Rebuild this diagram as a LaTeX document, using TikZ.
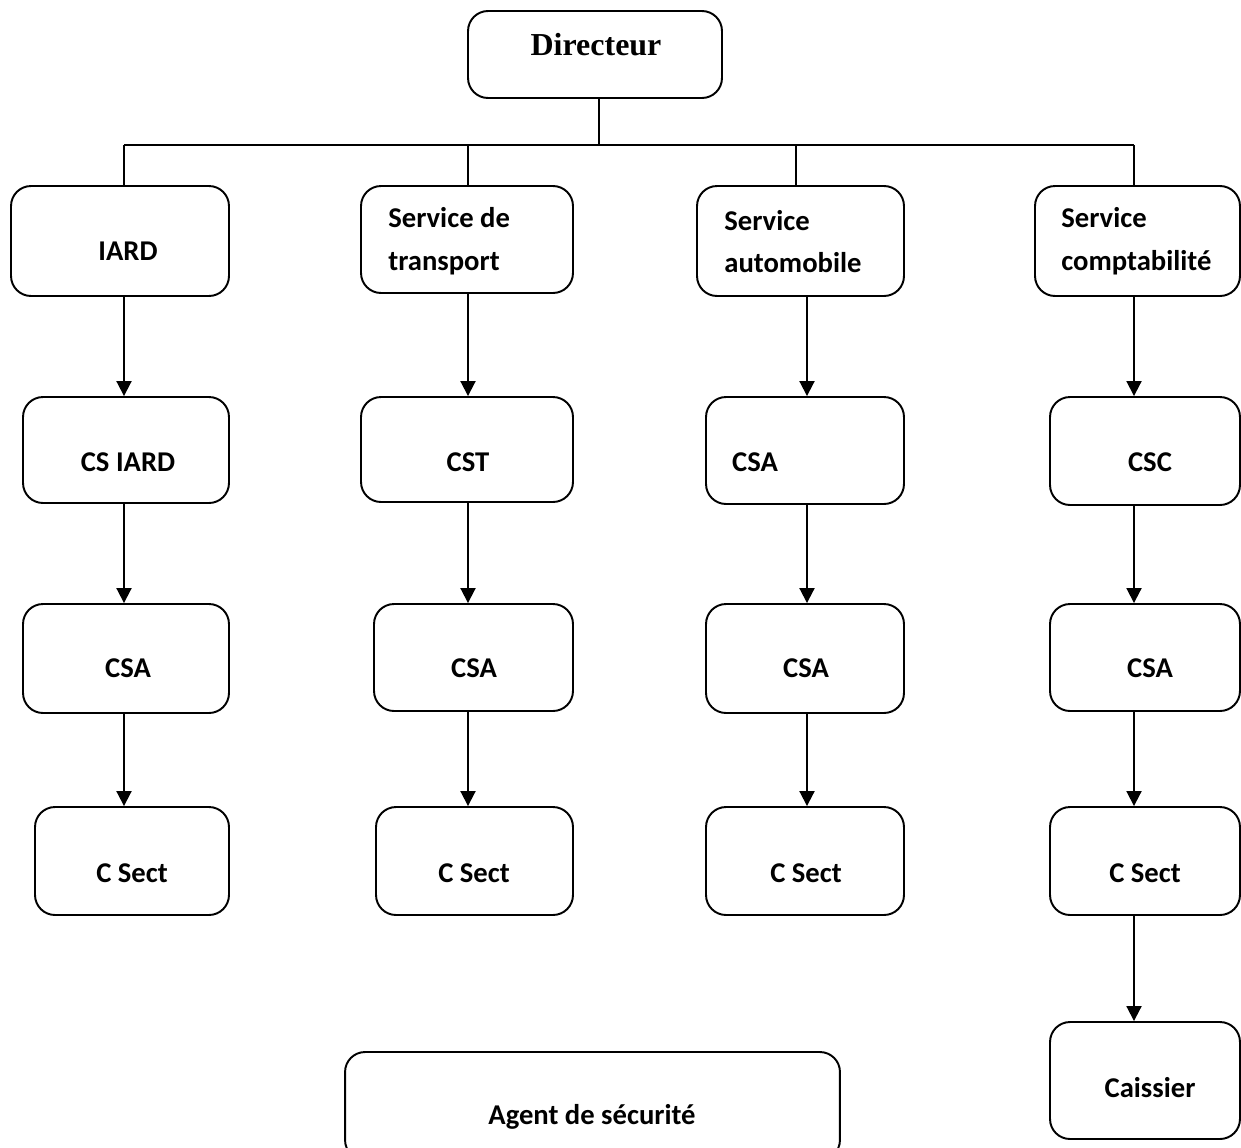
\documentclass[tikz,border=0pt]{standalone}
\usepackage{fontspec}
\setmainfont{Carlito}
\newfontfamily\timesfont{Liberation Serif}
\usetikzlibrary{arrows.meta}

\tikzset{
    boite/.style={draw, line width=1.1pt, rounded corners=0.4cm, inner sep=0pt},
    texte/.style={font=\fontsize{16.3}{24.4}\selectfont\bfseries, inner sep=0pt},
    fleche/.style={line width=1.1pt, -{Triangle[length=0.3cm,width=0.3cm]}},
    trait/.style={line width=1.1pt}
}

\begin{document}
\begin{tikzpicture}[x=0.02cm, y=-0.02cm]
    \useasboundingbox (0,0) rectangle (1241,1147);

    % boites
    \node[boite, minimum width=5.08cm, minimum height=1.74cm] (dir) at (595,54.5) {};
    \node[boite, minimum width=4.36cm, minimum height=2.20cm] (iard) at (120,241) {};
    \node[boite, minimum width=4.24cm, minimum height=2.14cm] (transport) at (467,239.5) {};
    \node[boite, minimum width=4.14cm, minimum height=2.20cm] (auto) at (800.5,241) {};
    \node[boite, minimum width=4.10cm, minimum height=2.20cm] (compta) at (1137.5,241) {};

    \node[boite, minimum width=4.12cm, minimum height=2.12cm] (csiard) at (126,450) {};
    \node[boite, minimum width=4.24cm, minimum height=2.10cm] (cst) at (467,449.5) {};
    \node[boite, minimum width=3.96cm, minimum height=2.14cm] (csauto) at (805,450.5) {};
    \node[boite, minimum width=3.80cm, minimum height=2.16cm] (csc) at (1145,451) {};

    \node[boite, minimum width=4.12cm, minimum height=2.18cm] (csa1) at (126,658.5) {};
    \node[boite, minimum width=3.98cm, minimum height=2.14cm] (csa2) at (473.5,657.5) {};
    \node[boite, minimum width=3.96cm, minimum height=2.18cm] (csa3) at (805,658.5) {};
    \node[boite, minimum width=3.80cm, minimum height=2.14cm] (csa4) at (1145,657.5) {};

    \node[boite, minimum width=3.88cm, minimum height=2.16cm] (sect1) at (132,861) {};
    \node[boite, minimum width=3.94cm, minimum height=2.16cm] (sect2) at (474.5,861) {};
    \node[boite, minimum width=3.96cm, minimum height=2.16cm] (sect3) at (805,861) {};
    \node[boite, minimum width=3.80cm, minimum height=2.16cm] (sect4) at (1145,861) {};

    \node[boite, minimum width=3.80cm, minimum height=2.34cm] (caissier) at (1145,1080.5) {};
    \node[boite, minimum width=9.90cm, minimum height=2.16cm] (agent) at (592.5,1106) {};

    % textes
    \node[inner sep=0pt, font=\timesfont\fontsize{18.2}{20}\selectfont\bfseries] (t-dir) at (596,45) {Directeur};
    \node[texte] (t-iard) at (128,251) {IARD};
    \node[texte, anchor=west, align=left] (t-transport) at (388,241.5) {Service de\\transport};
    \node[texte, anchor=west, align=left] (t-auto) at (724,241.5) {Service\\automobile};
    \node[texte, anchor=west, align=left] (t-compta) at (1061,241.5) {Service\\comptabilité};
    \node[texte] (t-csiard) at (128,462) {CS IARD};
    \node[texte] (t-cst) at (468,462) {CST};
    \node[texte] (t-csauto) at (755,462) {CSA};
    \node[texte] (t-csc) at (1150,462) {CSC};
    \node[texte] (t-csa1) at (128,668) {CSA};
    \node[texte] (t-csa2) at (474,668) {CSA};
    \node[texte] (t-csa3) at (806,668) {CSA};
    \node[texte] (t-csa4) at (1150,668) {CSA};
    \node[texte] (t-sect1) at (132,873) {C Sect};
    \node[texte] (t-sect2) at (474,873) {C Sect};
    \node[texte] (t-sect3) at (806,873) {C Sect};
    \node[texte] (t-sect4) at (1145,873) {C Sect};
    \node[texte] (t-caissier) at (1150,1088) {Caissier};
    \node[texte] (t-agent) at (592,1117) {Agent de sécurité};

    % liaisons
    \coordinate (bus) at (599,145);
    \coordinate (col1) at (124,145);
    \coordinate (col2) at (468,145);
    \coordinate (drop3) at (796,145);
    \coordinate (col3) at (807,145);
    \coordinate (col4) at (1134,145);
    \draw[trait] (dir.south -| bus) -- (bus);
    \draw[trait] (col1) -- (col4);
    \draw[trait] (col1) -- (col1 |- iard.north);
    \draw[trait] (col2) -- (col2 |- transport.north);
    \draw[trait] (drop3) -- (drop3 |- auto.north);
    \draw[trait] (col4) -- (col4 |- compta.north);

    \draw[fleche] (col1 |- iard.south) -- (col1 |- csiard.north);
    \draw[fleche] (col1 |- csiard.south) -- (col1 |- csa1.north);
    \draw[fleche] (col1 |- csa1.south) -- (col1 |- sect1.north);

    \draw[fleche] (col2 |- transport.south) -- (col2 |- cst.north);
    \draw[fleche] (col2 |- cst.south) -- (col2 |- csa2.north);
    \draw[fleche] (col2 |- csa2.south) -- (col2 |- sect2.north);

    \draw[fleche] (col3 |- auto.south) -- (col3 |- csauto.north);
    \draw[fleche] (col3 |- csauto.south) -- (col3 |- csa3.north);
    \draw[fleche] (col3 |- csa3.south) -- (col3 |- sect3.north);

    \draw[fleche] (col4 |- compta.south) -- (col4 |- csc.north);
    \draw[fleche] (col4 |- csc.south) -- (col4 |- csa4.north);
    \draw[fleche] (col4 |- csa4.south) -- (col4 |- sect4.north);
    \draw[fleche] (col4 |- sect4.south) -- (col4 |- caissier.north);
\end{tikzpicture}
\end{document}
